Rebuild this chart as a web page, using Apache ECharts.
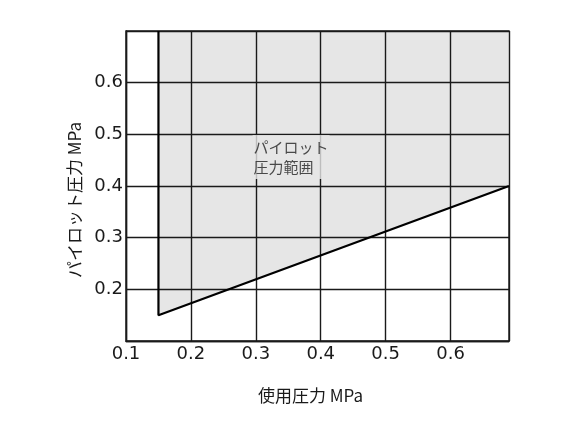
<!DOCTYPE html>
<html>
<head>
<meta charset="utf-8">
<script src="https://cdn.jsdelivr.net/npm/echarts@6/dist/echarts.min.js"></script>
<style>
  html, body { margin: 0; padding: 0; background: #fff; }
  #chart { width: 583px; height: 437px; }
</style>
</head>
<body>
<div id="chart"></div>
<script>
// 軸の範囲
var xRange = [0.1, 0.69];
var yRange = [0.1, 0.7];
// パイロット圧力範囲の境界 (使用圧力, パイロット圧力)
var boundary = [[0.15, 0.7], [0.15, 0.15], [0.69, 0.4]];
// 領域ラベル
var areaLabel = 'パイロット\n圧力範囲';
var areaLabelPos = [0.295, 0.456];

var font = '"DejaVu Sans", "Liberation Sans", Arial, sans-serif';
var jpFont = '"Noto Sans CJK JP", "Liberation Sans", sans-serif';
var ink = '#1a1a1a';

var myChart = echarts.init(document.getElementById('chart'));
myChart.setOption({
  animation: false,
  grid: {
    left: 126, right: 74, top: 31, bottom: 96,
    show: true, borderColor: ink, borderWidth: 1.4, backgroundColor: 'transparent'
  },
  xAxis: {
    type: 'value', min: xRange[0], max: xRange[1], interval: 0.1, z: 5,
    name: '使用圧力 MPa', nameLocation: 'middle', nameGap: 46,
    nameTextStyle: { fontFamily: jpFont, fontSize: 17, color: ink, padding: [0, 14, 0, 0] },
    axisLine: { show: true, lineStyle: { color: ink, width: 1.4 } },
    axisTick: { show: false },
    axisLabel: {
      margin: 4, fontFamily: font, fontSize: 18, color: ink, showMaxLabel: false,
      formatter: function (v) { return v.toFixed(1); }
    },
    splitLine: { show: true, lineStyle: { color: ink, width: 1.4 } }
  },
  yAxis: {
    type: 'value', min: yRange[0], max: yRange[1], interval: 0.1, z: 5,
    name: 'パイロット圧力 MPa', nameLocation: 'middle', nameGap: 30,
    nameTextStyle: { fontFamily: jpFont, fontSize: 17, color: ink, padding: [0, 28, 0, 0] },
    axisLine: { show: true, lineStyle: { color: ink, width: 1.4 } },
    axisTick: { show: false },
    axisLabel: {
      margin: 3, fontFamily: font, fontSize: 18, color: ink,
      showMinLabel: false, showMaxLabel: false,
      formatter: function (v) { return v.toFixed(1); }
    },
    splitLine: { show: true, lineStyle: { color: ink, width: 1.4 } }
  },
  series: [
    {
      // 塗りつぶし (グリッド線の下)
      type: 'line', data: boundary, z: 1, symbol: 'none', silent: true,
      lineStyle: { width: 0 },
      areaStyle: { color: '#e6e6e6', opacity: 1, origin: 'end' }
    },
    {
      // 境界線
      type: 'line', data: boundary, z: 10, symbol: 'none', silent: true,
      lineStyle: { color: '#000', width: 2.2 }
    },
    {
      type: 'scatter', data: [areaLabelPos], z: 11, symbolSize: 0, silent: true,
      label: {
        show: true, position: 'inside', formatter: areaLabel,
        align: 'left', verticalAlign: 'middle',
        fontFamily: jpFont, fontSize: 15, lineHeight: 20, color: '#222',
        backgroundColor: '#e6e6e6', padding: [2, 1, 2, 1]
      }
    }
  ]
});
</script>
</body>
</html>
